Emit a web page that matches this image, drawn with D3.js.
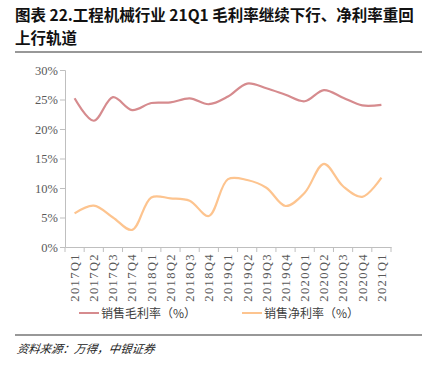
<!DOCTYPE html>
<html lang="zh">
<head>
<meta charset="UTF-8">
<title>工程机械行业毛利率与净利率</title>
<script src="https://d3js.org/d3.v7.min.js"></script>
<style>
  body { margin: 0; background: #fff; }
  svg { display: block; }
</style>
</head>
<body>
<div id="chart"></div>
<script>
var quarters = ["2017Q1","2017Q2","2017Q3","2017Q4","2018Q1","2018Q2","2018Q3","2018Q4",
  "2019Q1","2019Q2","2019Q3","2019Q4","2020Q1","2020Q2","2020Q3","2020Q4","2021Q1"];
var grossMargin = [25.2,21.4,25.4,23.2,24.4,24.5,25.2,24.2,25.5,27.7,26.9,25.8,24.7,26.6,25.3,24.0,24.1];
var netMargin = [5.7,7.0,5.0,2.9,8.4,8.25,7.85,5.25,11.5,11.35,10.05,6.95,9.2,14.1,10.3,8.5,11.75];
var yTicks = [0,5,10,15,20,25,30];
var seriesNames = ["销售毛利率（%）","销售净利率（%）"];
var seriesColors = ["#d68b8e","#fdc48f"];

var W = 429, H = 368;
var margin = {top: 70, right: 38, bottom: 121, left: 65},
    width = W - margin.left - margin.right,
    height = H - margin.top - margin.bottom;

var svg = d3.select("#chart").append("svg")
  .attr("width", W).attr("height", H);

// title
var titleLines = ["图表 22.工程机械行业 21Q1 毛利率继续下行、净利率重回", "上行轨道"];
svg.selectAll(".title").data(titleLines).enter().append("text")
  .attr("x", 15).attr("y", function(d, i){ return 21 + i*23; })
  .attr("font-family", "'Noto Sans CJK SC', sans-serif")
  .attr("font-weight", "bold").attr("font-size", 15.5)
  .attr("fill", "#111")
  .text(function(d){ return d; });

svg.append("line").attr("x1", 15).attr("x2", 422).attr("y1", 52).attr("y2", 52)
  .attr("stroke", "#333").attr("stroke-width", 1.2);
svg.append("line").attr("x1", 15).attr("x2", 422).attr("y1", 335).attr("y2", 335)
  .attr("stroke", "#333").attr("stroke-width", 1.2);

svg.append("text").attr("x", 17).attr("y", 353)
  .attr("font-family", "'Noto Sans CJK SC', sans-serif")
  .attr("font-style", "italic").attr("font-size", 11.5)
  .attr("fill", "#222")
  .attr("transform", "skewX(-8) translate(49,0)")
  .text("资料来源：万得，中银证券");

var g = svg.append("g")
  .attr("transform", "translate(" + margin.left + "," + margin.top + ")");

var x = d3.scaleBand().domain(quarters).range([0, width]);
var y = d3.scaleLinear().domain([0, 30]).range([height, 0]);

// y axis
var yAxis = g.append("g")
  .call(d3.axisLeft(y).tickValues(yTicks).tickSize(5).tickFormat(function(d){ return d + "%"; }));
yAxis.select(".domain").attr("stroke", "#bfbfbf");
yAxis.selectAll(".tick line").attr("stroke", "#bfbfbf");
yAxis.selectAll("text").attr("font-family", "'Liberation Serif', serif")
  .attr("font-size", 12.5).attr("fill", "#595959").attr("x", -7);

// x axis with ticks at category boundaries
var xAxis = g.append("g").attr("transform", "translate(0," + height + ")")
  .call(d3.axisBottom(x).tickSize(0));
xAxis.select(".domain").attr("stroke", "#bfbfbf");
xAxis.selectAll("text")
  .attr("font-family", "'Liberation Serif', serif")
  .attr("font-size", 12.5).attr("fill", "#595959")
  .attr("letter-spacing", 1.4)
  .attr("transform", "rotate(-90)")
  .attr("text-anchor", "end").attr("dy", "0.35em")
  .attr("x", -6).attr("y", 0);
g.append("g").attr("transform", "translate(0," + height + ")")
  .selectAll("line").data(quarters.concat(["end"])).enter().append("line")
  .attr("x1", function(d, i){ return i * x.bandwidth(); })
  .attr("x2", function(d, i){ return i * x.bandwidth(); })
  .attr("y1", 0).attr("y2", 5)
  .attr("stroke", "#bfbfbf");

var line = d3.line()
  .x(function(d, i){ return x(quarters[i]) + x.bandwidth() / 2; })
  .y(function(d){ return y(d); })
  .curve(d3.curveCatmullRom.alpha(0.5));

[grossMargin, netMargin].forEach(function(s, i){
  g.append("path").datum(s)
    .attr("fill", "none")
    .attr("stroke", seriesColors[i])
    .attr("stroke-width", 2.2)
    .attr("d", line);
});

// legend
var legendX = [79, 242];
var lg = svg.append("g");
seriesNames.forEach(function(name, i){
  lg.append("line").attr("x1", legendX[i]).attr("x2", legendX[i] + 20)
    .attr("y1", 313).attr("y2", 313)
    .attr("stroke", seriesColors[i]).attr("stroke-width", 2);
  lg.append("text").attr("x", legendX[i] + 22).attr("y", 317.5)
    .attr("font-family", "'Noto Sans CJK SC', sans-serif")
    .attr("font-size", 12).attr("fill", "#404040")
    .text(name);
});
</script>
</body>
</html>
